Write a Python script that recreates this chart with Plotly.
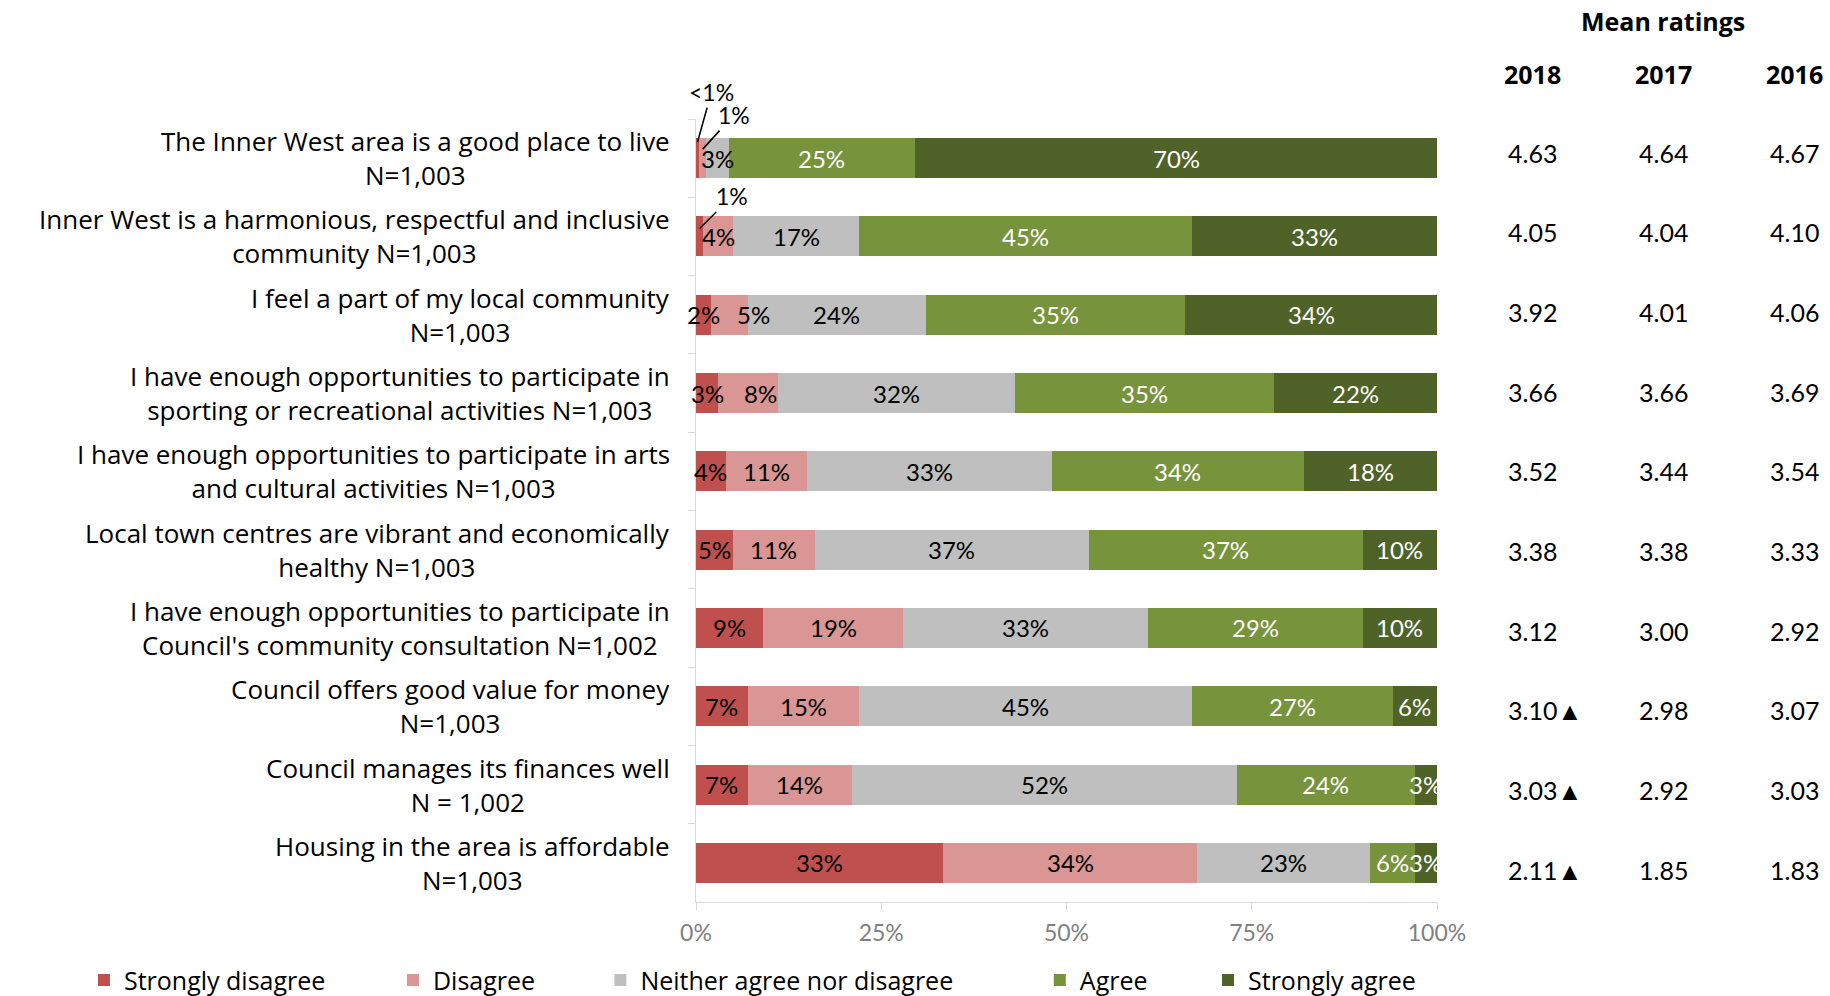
import plotly.graph_objects as go

# Survey statements (rows, top to bottom)
statements = [
    "The Inner West area is a good place to live<br>N=1,003",
    "Inner West is a harmonious, respectful and inclusive<br>community N=1,003",
    "I feel a part of my local community<br>N=1,003",
    "I have enough opportunities to participate in<br>sporting or recreational activities N=1,003",
    "I have enough opportunities to participate in arts<br>and cultural activities N=1,003",
    "Local town centres are vibrant and economically<br>healthy N=1,003",
    "I have enough opportunities to participate in<br>Council's community consultation N=1,002",
    "Council offers good value for money<br>N=1,003",
    "Council manages its finances well<br>N = 1,002",
    "Housing in the area is affordable<br>N=1,003",
]

levels = ["Strongly disagree", "Disagree", "Neither agree nor disagree", "Agree", "Strongly agree"]
level_colors = ["#C0504D", "#D99694", "#BFBFBF", "#77933C", "#4F6228"]
label_colors = ["#000000", "#000000", "#000000", "#FFFFFF", "#FFFFFF"]

# Response shares (%)
strongly_disagree = [0.4, 1, 2, 3, 4, 5, 9, 7, 7, 33]
disagree = [1, 4, 5, 8, 11, 11, 19, 15, 14, 34]
neither = [3, 17, 24, 32, 33, 37, 33, 45, 52, 23]
agree = [25, 45, 35, 35, 34, 37, 29, 27, 24, 6]
strongly_agree = [70, 33, 34, 22, 18, 10, 10, 6, 3, 3]
series = [strongly_disagree, disagree, neither, agree, strongly_agree]

# Segment labels shown with a leader line instead of inside the bar: (row, level, text)
callouts = [(0, 0, "<1%"), (0, 1, "1%"), (1, 0, "1%")]
callout_offsets = [(14, -50, 16), (31, -34, 9), (32, -32, 8)]  # ax, ay, yshift in px

# Labels nudged right (px) so they clear a neighbouring label: (row, level) -> shift
label_nudge = {(2, 1): 24, (3, 1): 13}

# Mean ratings by year
years = ["2018", "2017", "2016"]
mean_2018 = [4.63, 4.05, 3.92, 3.66, 3.52, 3.38, 3.12, 3.10, 3.03, 2.11]
mean_2017 = [4.64, 4.04, 4.01, 3.66, 3.44, 3.38, 3.00, 2.98, 2.92, 1.85]
mean_2016 = [4.67, 4.10, 4.06, 3.69, 3.54, 3.33, 2.92, 3.07, 3.03, 1.83]
sig_up_2018 = [False, False, False, False, False, False, False, True, True, True]

x_ticks = [0, 25, 50, 75, 100]

FONT = "Lato"
LABEL_FONT = "Open Sans"

# Horizontal position (paper units) of each legend entry
legend_x = [-0.826, -0.409, -0.129, 0.464, 0.691]

fig = go.Figure()
for li, (name, vals) in enumerate(zip(levels, series)):
    fig.add_trace(go.Bar(
        name=name, y=statements, x=vals, orientation="h",
        marker=dict(color=level_colors[li], line=dict(width=0)),
        textposition="none", hoverinfo="skip",
        legend="legend" if li == 0 else f"legend{li + 1}",
    ))

annotations = []

# Percentage labels centred on each stacked segment
hidden = {(r, l) for r, l, _ in callouts}
for ri, s in enumerate(statements):
    total = sum(sr[ri] for sr in series)
    cum = 0.0
    for li, sr in enumerate(series):
        v = sr[ri]
        xc = (cum + v / 2) / total * 100
        cum += v
        if (ri, li) in hidden:
            continue
        annotations.append(dict(
            xref="x", yref="y", x=xc, y=s, text=f"{v:g}%", showarrow=False,
            xanchor="center", yanchor="middle", xshift=label_nudge.get((ri, li), 0),
            font=dict(family=FONT, size=24, color=label_colors[li]),
        ))

# Leader-line labels for the tiny segments
for (ri, li, txt), (ax, ay, ys) in zip(callouts, callout_offsets):
    total = sum(sr[ri] for sr in series)
    before = sum(series[k][ri] for k in range(li))
    xc = (before + series[li][ri] / 2) / total * 100
    annotations.append(dict(
        xref="x", yref="y", x=xc, y=statements[ri], yshift=ys,
        text=txt, showarrow=True, arrowhead=0, arrowwidth=1.6,
        arrowcolor="#000000", ax=ax, ay=ay, standoff=0,
        font=dict(family=FONT, size=23, color="#000000"),
    ))

# Statement labels, centred line by line
for s in statements:
    annotations.append(dict(
        xref="paper", yref="y", x=0, y=s, xanchor="right", xshift=-24,
        text=s, showarrow=False, align="center",
        font=dict(family=LABEL_FONT, size=26, color="#000000"),
    ))

# Mean ratings table
annotations.append(dict(
    xref="paper", yref="paper", x=1.305, y=1.125, text="<b>Mean ratings</b>",
    showarrow=False, xanchor="center", yanchor="middle",
    font=dict(family=LABEL_FONT, size=25, color="#000000"),
))
col_x = [1.129, 1.305, 1.483]
for yr, cx in zip(years, col_x):
    annotations.append(dict(
        xref="paper", yref="paper", x=cx, y=1.0575, text=f"<b>{yr}</b>",
        showarrow=False, xanchor="center", yanchor="middle",
        font=dict(family=LABEL_FONT, size=25, color="#000000"),
    ))

for i, s in enumerate(statements):
    row_shift = 5.3 - 1.33 * i  # table rows are spaced slightly wider than the bars
    t18 = f"{mean_2018[i]:.2f}" + ("▲" if sig_up_2018[i] else "")
    annotations.append(dict(
        xref="paper", yref="y", x=1.093, y=s, yshift=row_shift, text=t18,
        showarrow=False, xanchor="left",
        font=dict(family=FONT, size=25, color="#000000"),
    ))
    annotations.append(dict(
        xref="paper", yref="y", x=col_x[1], y=s, yshift=row_shift,
        text=f"{mean_2017[i]:.2f}", showarrow=False, xanchor="center",
        font=dict(family=FONT, size=25, color="#000000"),
    ))
    annotations.append(dict(
        xref="paper", yref="y", x=col_x[2], y=s, yshift=row_shift,
        text=f"{mean_2016[i]:.2f}", showarrow=False, xanchor="center",
        font=dict(family=FONT, size=25, color="#000000"),
    ))

legend_style = dict(
    orientation="h", xanchor="left", y=-0.1, yanchor="middle",
    font=dict(family=LABEL_FONT, size=25, color="#000000"),
    itemwidth=30, bgcolor="rgba(0,0,0,0)",
)
legends = {}
for li, lx in enumerate(legend_x):
    key = "legend" if li == 0 else f"legend{li + 1}"
    legends[key] = dict(legend_style, x=lx)

fig.update_layout(
    width=1830, height=996,
    margin=dict(l=696, r=393, t=119, b=94, autoexpand=False),
    barmode="stack", barnorm="percent", bargap=0.49,
    plot_bgcolor="white", paper_bgcolor="white",
    font=dict(family=FONT, size=22, color="#000000"),
    showlegend=True,
    annotations=annotations,
    **legends,
)
fig.update_xaxes(
    range=[0, 100], tickvals=x_ticks, ticktext=[f"{t}%" for t in x_ticks],
    showgrid=False, zeroline=False, showline=True, linecolor="#D9D9D9",
    ticks="outside", ticklen=7, tickcolor="#D9D9D9", ticklabelstandoff=3,
    tickfont=dict(family=FONT, size=23, color="#808080"),
)
fig.update_yaxes(
    categoryorder="array", categoryarray=statements, autorange="reversed",
    showticklabels=False, showgrid=False, showline=True, linecolor="#D9D9D9",
    ticks="outside", ticklen=7, tickcolor="#D9D9D9", tickson="boundaries",
)

fig.write_html("out.html")
